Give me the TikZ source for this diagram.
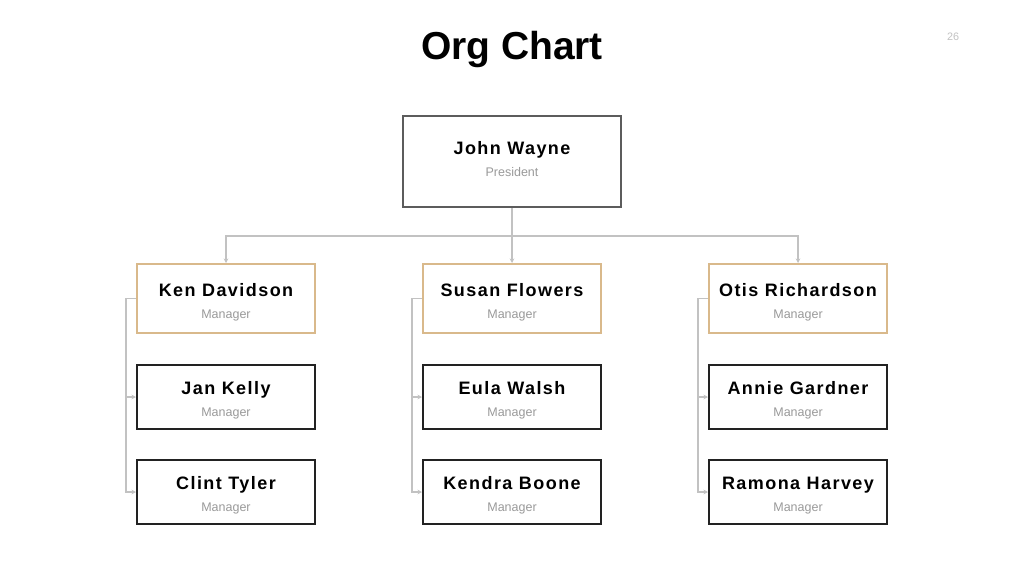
\documentclass[tikz,border=0pt]{standalone}
\usepackage{fontspec}
\setmainfont{Liberation Sans}
\newfontfamily\namefont[LetterSpace=8]{Liberation Sans}
\usetikzlibrary{arrows.meta}
\definecolor{linkgray}{HTML}{C2C2C2}
\definecolor{rolegray}{HTML}{9A9A9A}
\definecolor{leadtan}{HTML}{D9B98B}
\definecolor{boxdark}{HTML}{222222}
\definecolor{presgray}{HTML}{5C5C5C}
\tikzset{
  person/.style={rectangle, draw=boxdark, line width=2pt, fill=white, minimum width=178pt, minimum height=64pt, align=center, inner sep=0pt, font=\fontsize{12.5}{22}\selectfont},
  lead/.style={person, draw=leadtan, minimum height=69pt},
  president/.style={person, draw=presgray, minimum width=218pt, minimum height=91pt},
  link/.style={draw=linkgray, line width=1.5pt, -{Stealth[length=4.5pt,width=4.5pt]}}
}
% #1 = top strut (moves the text down), #2 = bottom depth (moves it up)
\newcommand{\who}[4][21pt]{\rule{0pt}{#1}{\namefont\bfseries\fontsize{18}{22}\selectfont #3}\\{\color{rolegray}#4}\rule[-#2]{0pt}{#2}}
\begin{document}
\begin{tikzpicture}[x=1pt,y=-1pt]
\useasboundingbox[fill=white] (0,0) rectangle (1024,576);
\node (title) at (512,49) {\fontsize{39}{40}\selectfont\bfseries Org Chart};
\node[text=linkgray] (page) at (953,37) {\fontsize{10.8}{12}\selectfont 26};
% top
\node[president] (wayne) at (512,161.5) {\who[0pt]{6pt}{John Wayne}{President}};
% managers
\node[lead] (ken) at (226,298.5) {\who{0pt}{Ken Davidson}{Manager}};
\node[lead] (susan) at (512,298.5) {\who{0pt}{Susan Flowers}{Manager}};
\node[lead] (otis) at (798,298.5) {\who{0pt}{Otis Richardson}{Manager}};
% second row
\node[person] (jan) at (226,397) {\who[19pt]{0pt}{Jan Kelly}{Manager}};
\node[person] (eula) at (512,397) {\who[19pt]{0pt}{Eula Walsh}{Manager}};
\node[person] (annie) at (798,397) {\who[19pt]{0pt}{Annie Gardner}{Manager}};
% third row
\node[person] (clint) at (226,492) {\who[19pt]{0pt}{Clint Tyler}{Manager}};
\node[person] (kendra) at (512,492) {\who[19pt]{0pt}{Kendra Boone}{Manager}};
\node[person] (ramona) at (798,492) {\who[19pt]{0pt}{Ramona Harvey}{Manager}};
% links
\draw[link] (wayne.south) -- ++(0,28) -| (ken.north);
\draw[link] (wayne.south) -- (susan.north);
\draw[link] (wayne.south) -- ++(0,28) -| (otis.north);
\draw[link] (ken.west) -- ++(-10,0) |- (jan.west);
\draw[link] (ken.west) -- ++(-10,0) |- (clint.west);
\draw[link] (susan.west) -- ++(-10,0) |- (eula.west);
\draw[link] (susan.west) -- ++(-10,0) |- (kendra.west);
\draw[link] (otis.west) -- ++(-10,0) |- (annie.west);
\draw[link] (otis.west) -- ++(-10,0) |- (ramona.west);
\end{tikzpicture}
\end{document}
